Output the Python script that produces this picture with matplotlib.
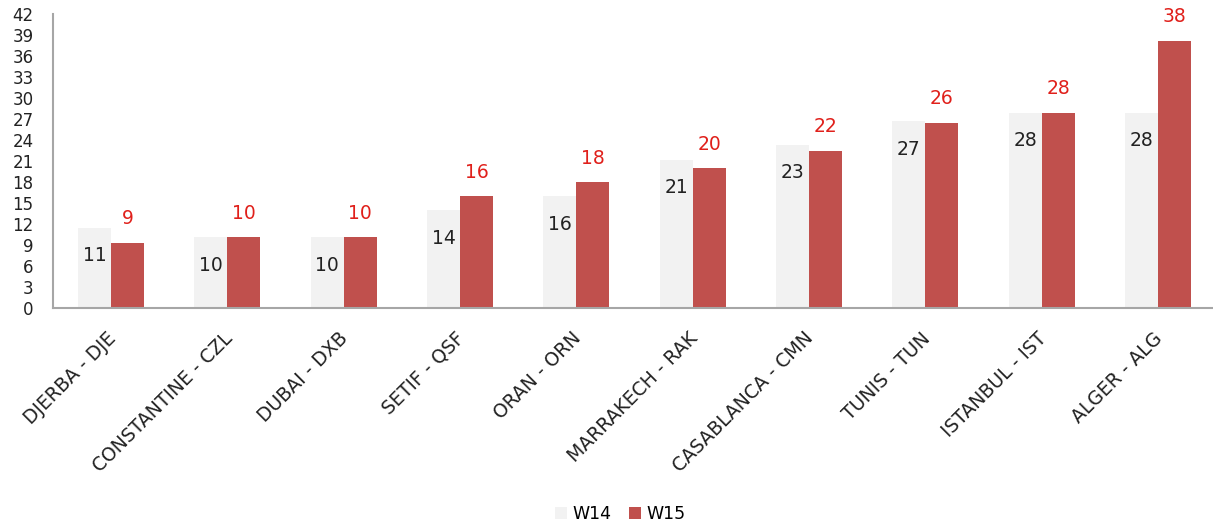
import numpy as np
import matplotlib
matplotlib.use('Agg')
import matplotlib.pyplot as plt
from matplotlib.transforms import ScaledTranslation

routes = ['DJERBA - DJE', 'CONSTANTINE - CZL', 'DUBAI - DXB', 'SETIF - QSF', 'ORAN - ORN',
          'MARRAKECH - RAK', 'CASABLANCA - CMN', 'TUNIS - TUN', 'ISTANBUL - IST', 'ALGER - ALG']
w14 = [11.5, 10.1, 10.1, 14.0, 16.0, 21.2, 23.3, 26.7, 27.9, 27.9]
w15 = [9.3, 10.1, 10.1, 16.0, 18.0, 20.0, 22.5, 26.5, 27.9, 38.2]
w14_labels = ['11', '10', '10', '14', '16', '21', '23', '27', '28', '28']
w15_labels = ['9', '10', '10', '16', '18', '20', '22', '26', '28', '38']

plt.rcParams['font.family'] = ['DejaVu Sans']

fig = plt.figure(figsize=(12.13, 5.29), dpi=100)
ax = fig.add_axes([53 / 1213, 1 - 308 / 529, 1163 / 1213, 294 / 529])

x = np.arange(len(routes))
width = 0.284
b14 = ax.bar(x - width / 2, w14, width, color='#F2F2F2', label='W14')
b15 = ax.bar(x + width / 2, w15, width, color='#C0504D', label='W15')

for rect, lab in zip(b14, w14_labels):
    ax.annotate(lab, (rect.get_x() + rect.get_width() / 2, rect.get_height()),
                xytext=(0, -28), textcoords='offset pixels', ha='center', va='center',
                fontsize=13.5, color='#222222')
for rect, lab in zip(b15, w15_labels):
    ax.annotate(lab, (rect.get_x() + rect.get_width() / 2, rect.get_height()),
                xytext=(0, 24), textcoords='offset pixels', ha='center', va='center',
                fontsize=13.5, color='#E0201B')

ax.set_xlim(-0.5, len(routes) - 0.5)
ax.set_ylim(0, 42)
ax.set_yticks(np.arange(0, 43, 3))
ax.set_xticks(x)
ax.set_xticklabels(routes, rotation=45, ha='right', rotation_mode='anchor')
ax.tick_params(axis='y', length=0, pad=14, labelsize=12, labelcolor='#222222')
ax.tick_params(axis='x', length=0, pad=12, labelsize=13.5, labelcolor='#222222')

# nudge the rotated labels a little left and down
shift = ScaledTranslation(-5 / 100, -4 / 100, fig.dpi_scale_trans)
for lbl in ax.get_xticklabels():
    lbl.set_transform(lbl.get_transform() + shift)

for s in ['top', 'right']:
    ax.spines[s].set_visible(False)
for s in ['left', 'bottom']:
    ax.spines[s].set_color('#A6A6A6')
    ax.spines[s].set_linewidth(1.5)

fig.legend(handles=[b14, b15], labels=['W14', 'W15'], loc='center',
           bbox_to_anchor=(620 / 1213, 1 - 514 / 529), ncol=2, frameon=False,
           fontsize=12.5, handlelength=0.7, handleheight=0.7, handletextpad=0.3,
           columnspacing=1.0)

fig.savefig('out.png', dpi=100)
